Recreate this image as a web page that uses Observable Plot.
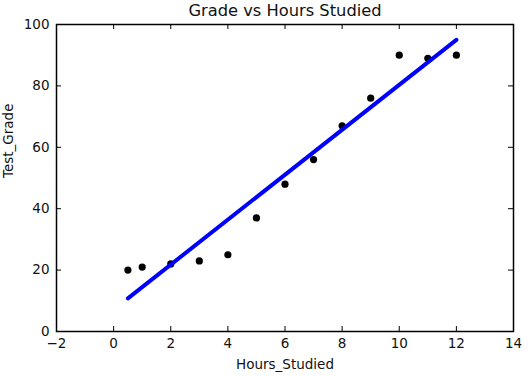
<!DOCTYPE html>
<html>
<head>
<meta charset="utf-8">
<script src="https://cdn.jsdelivr.net/npm/d3@7"></script>
<script src="https://cdn.jsdelivr.net/npm/@observablehq/plot@0.6"></script>
<style>
  html, body { margin: 0; padding: 0; background: #fff; }
  #chart svg { display: block; font-family: "DejaVu Sans", sans-serif; }
</style>
</head>
<body>
<div id="chart"></div>
<script>
// Data
const hours  = [0.5, 1, 2, 3, 4, 5, 6, 7, 8, 9, 10, 11, 12];
const grades = [20, 21, 22, 23, 25, 37, 48, 56, 67, 76, 90, 89, 90];
// Regression line endpoints
const fitX = [0.5, 12];
const fitY = [10.8, 95];
const xTicks = [-2, 0, 2, 4, 6, 8, 10, 12, 14];
const yTicks = [0, 20, 40, 60, 80, 100];
const titleText = "Grade vs Hours Studied";
const xLabel = "Hours_Studied";
const yLabel = "Test_Grade";

const points = hours.map((h, i) => ({h, g: grades[i]}));
const fit = fitX.map((x, i) => ({x, y: fitY[i]}));

const W = 529, H = 376;
const mt = 24, mb = 45, ml = 56, mr = 16;
const ph = H - mt - mb, pw = W - ml - mr;
const tk = 5;

const chart = Plot.plot({
  width: W,
  height: H,
  marginTop: mt,
  marginBottom: mb,
  marginLeft: ml,
  marginRight: mr,
  style: {background: "#fff", color: "#000", fontFamily: "DejaVu Sans, sans-serif"},
  x: {domain: [-2, 14]},
  y: {domain: [0, 100]},
  marks: [
    Plot.axisX(xTicks, {tickSize: 0, tickPadding: 7, fontSize: 13.5, label: null, fill: "#111"}),
    Plot.axisY(yTicks, {tickSize: 0, tickPadding: 7, fontSize: 13.5, label: null, fill: "#111"}),
    // inside ticks, all four sides
    Plot.tickX(xTicks, {x: d => d, insetTop: ph - tk, stroke: "#000"}),
    Plot.tickX(xTicks, {x: d => d, insetBottom: ph - tk, stroke: "#000"}),
    Plot.tickY(yTicks, {y: d => d, insetRight: pw - tk, stroke: "#000"}),
    Plot.tickY(yTicks, {y: d => d, insetLeft: pw - tk, stroke: "#000"}),
    Plot.dot(points, {x: "h", y: "g", r: 3.6, fill: "#000", stroke: "none"}),
    Plot.line(fit, {x: "x", y: "y", stroke: "#0000ff", strokeWidth: 4}),
    Plot.frame({stroke: "#000", strokeWidth: 1.5}),
    Plot.text([titleText], {frameAnchor: "top", lineAnchor: "middle", dy: -14, fontSize: 16.3, fill: "#111"}),
    Plot.text([xLabel], {frameAnchor: "bottom", lineAnchor: "middle", dy: 33.5, fontSize: 13.5, fill: "#111"}),
    Plot.text([yLabel], {frameAnchor: "left", lineAnchor: "middle", dx: -48, rotate: -90, fontSize: 13.5, fill: "#111"})
  ]
});
document.getElementById("chart").appendChild(chart);
</script>
</body>
</html>
